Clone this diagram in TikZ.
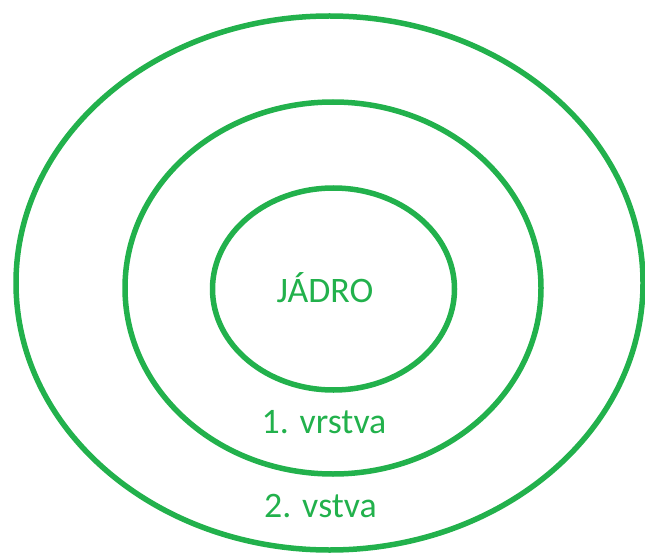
\documentclass[tikz,border=0pt]{standalone}
\usepackage{fontspec}
\setmainfont{Carlito}
\definecolor{paintgreen}{RGB}{34,177,76}
\tikzset{
  ring/.style={draw=paintgreen, line width=5.5bp},
  lbl/.style={text=paintgreen, font=\fontsize{36}{42}\selectfont, anchor=base, inner sep=0pt}
}
\begin{document}
\begin{tikzpicture}[x=1bp, y=-1bp]
  \useasboundingbox (0,0) rectangle (645,554);
  % three nested layers
  \draw[ring] (329.5,283) ellipse [x radius=313.5, y radius=267];
  \draw[ring] (333,288) ellipse [x radius=208, y radius=186];
  \draw[ring] (333.5,289) ellipse [x radius=121, y radius=101];
  % labels
  \node[lbl] (core) at (325,302) {JÁDRO};
  \node[lbl] (l1) at (324,433) {1. vrstva};
  \node[lbl] (l2) at (320.5,517) {2. vstva};
\end{tikzpicture}
\end{document}
